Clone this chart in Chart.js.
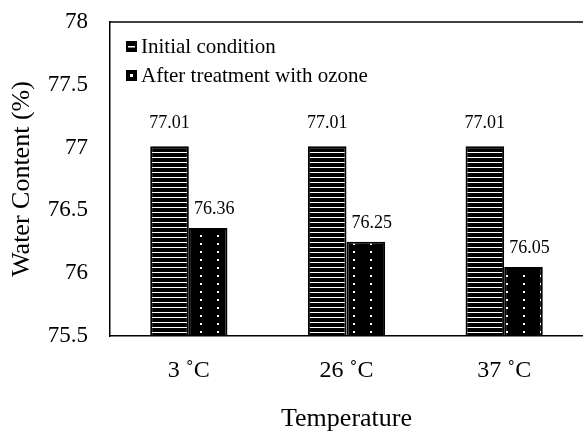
<!doctype html>
<html lang="en">
  <head>
    <meta charset="utf-8">
    <title>Water Content</title>
    <script src="https://cdn.jsdelivr.net/npm/chart.js@4"></script>
    <style>
      body { margin: 0; background: #fff; }
      #wrap { width: 583px; height: 435px; }
    </style>
  </head>
  <body>
    <div id="wrap"><canvas id="myChart"></canvas></div>
    <script>
        var categories = ['3 \u02DAC', '26 \u02DAC', '37 \u02DAC']
        var initialValues = [77.01, 77.01, 77.01]
        var ozoneValues = [76.36, 76.25, 76.05]
        var seriesNames = ['Initial condition', 'After treatment with ozone']
        var yTicks = [75.5, 76, 76.5, 77, 77.5, 78]

        var FONT = 'Liberation Serif'

        // hatch fills like the excel patterns
        function stripes(){
            var c = document.createElement('canvas')
            c.width = 8; c.height = 5
            var g = c.getContext('2d')
            g.fillStyle = '#000'
            g.fillRect(0, 0, 8, 5)
            g.fillStyle = '#fff'
            g.fillRect(0, 2, 8, 1)
            return g.createPattern(c, 'repeat')
        }
        function dots(){
            var c = document.createElement('canvas')
            c.width = 17; c.height = 8
            var g = c.getContext('2d')
            g.fillStyle = '#000'
            g.fillRect(0, 0, 17, 8)
            g.fillStyle = '#fff'
            g.fillRect(13, 3, 2, 2)
            return g.createPattern(c, 'repeat')
        }
        function icon(ctx, kind, x, y){
            ctx.fillStyle = '#000'
            ctx.fillRect(x, y, 11, 11)
            ctx.fillStyle = '#fff'
            if (kind == 0) ctx.fillRect(x + 2, y + 5, 7, 1.5)
            else ctx.fillRect(x + 4, y + 4, 3, 3)
        }

        // legend sits inside the plot box, top left
        var boxLegend = {
            id: 'boxLegend',
            afterDraw: function(chart){
                var a = chart.chartArea, ctx = chart.ctx
                ctx.save()
                ctx.font = '21px "' + FONT + '"'
                ctx.textBaseline = 'middle'
                ctx.textAlign = 'left'
                chart.data.datasets.forEach(function(ds, i){
                    var y = a.top + 24 + i * 29
                    icon(ctx, i, a.left + 16, y - 5)
                    ctx.fillStyle = '#000'
                    ctx.fillText(ds.label, a.left + 31, y + 1)
                })
                ctx.restore()
            }
        }

        // value labels above the bars
        var valueLabels = {
            id: 'valueLabels',
            afterDatasetsDraw: function(chart){
                var ctx = chart.ctx
                ctx.save()
                ctx.font = '18px "' + FONT + '"'
                ctx.fillStyle = '#000'
                ctx.textAlign = 'center'
                ctx.textBaseline = 'middle'
                var lift = [23, 19]
                var shift = [0, 6]
                chart.data.datasets.forEach(function(ds, i){
                    chart.getDatasetMeta(i).data.forEach(function(bar, j){
                        ctx.fillText(ds.data[j].toFixed(2), bar.x + shift[i], bar.y - lift[i])
                    })
                })
                ctx.restore()
            }
        }
        // top edge of the plot box
        var frameTop = {
            id: 'frameTop',
            beforeDatasetsDraw: function(chart){
                var a = chart.chartArea, ctx = chart.ctx
                ctx.save()
                ctx.strokeStyle = '#000'
                ctx.lineWidth = 1.5
                ctx.beginPath()
                ctx.moveTo(a.left, a.top)
                ctx.lineTo(a.right, a.top)
                ctx.stroke()
                ctx.restore()
            }
        }

        var ctx = document.getElementById('myChart').getContext('2d')
        var chart = new Chart(ctx, {
            type: 'bar',
            data: {
                labels: categories,
                datasets: [{
                    label: seriesNames[0],
                    data: initialValues,
                    backgroundColor: stripes(),
                    borderColor: '#000',
                    borderWidth: 2
                },
                {
                    label: seriesNames[1],
                    data: ozoneValues,
                    backgroundColor: dots(),
                    borderColor: '#000',
                    borderWidth: 2
                }]
            },
            plugins: [valueLabels, frameTop, boxLegend],
            options: {
                responsive: true,
                maintainAspectRatio: false,
                animation: false,
                layout: { padding: { top: 22, right: 0, left: 0, bottom: 0 } },
                categoryPercentage: 0.49,
                barPercentage: 1,
                plugins: {
                    tooltip: { enabled: false },
                    legend: { display: false }
                },
                scales: {
                    x: {
                        grid: { display: false },
                        border: { display: true, color: '#000', width: 1.5 },
                        ticks: { color: '#000', font: { family: FONT, size: 24 }, padding: 12 },
                        title: { display: true, text: 'Temperature', color: '#000',
                                 font: { family: FONT, size: 26 }, padding: { top: 0, bottom: 0 } },
                        afterFit: function(s){ s.height = 99 }
                    },
                    y: {
                        min: yTicks[0],
                        max: yTicks[yTicks.length - 1],
                        grid: { display: false },
                        border: { display: true, color: '#000', width: 1.5 },
                        afterBuildTicks: function(s){ s.ticks = yTicks.map(function(v){ return { value: v } }) },
                        ticks: { color: '#000', font: { family: FONT, size: 23 }, padding: 14,
                                 callback: function(v){ return String(v) } },
                        title: { display: true, text: 'Water Content (%)', color: '#000',
                                 font: { family: FONT, size: 26 }, padding: { top: 7, bottom: 0 } },
                        afterFit: function(s){ s.width = 110; s.paddingTop = 0; s.paddingBottom = 0 }
                    }
                }
            }
        })
    </script>
  </body>
</html>
